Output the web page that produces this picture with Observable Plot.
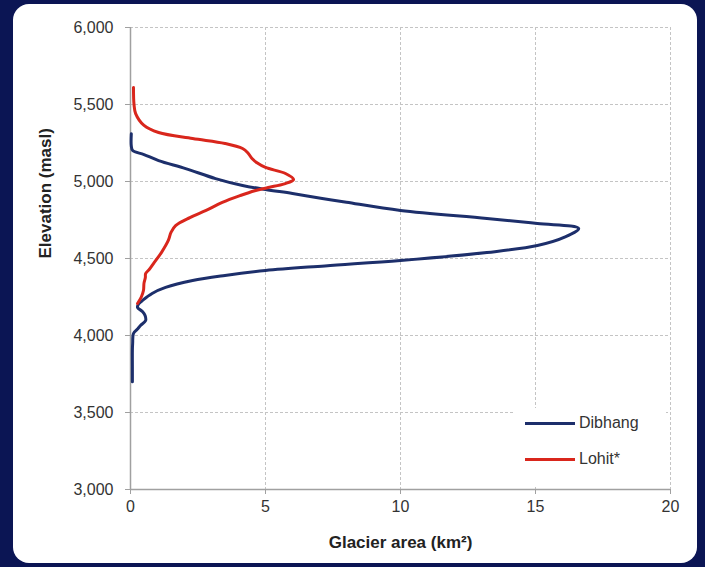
<!DOCTYPE html>
<html>
<head>
<meta charset="utf-8">
<script src="https://cdn.jsdelivr.net/npm/d3@7"></script>
<script src="https://cdn.jsdelivr.net/npm/@observablehq/plot@0.6"></script>
<style>
  html, body { margin: 0; padding: 0; }
  body { width: 705px; height: 567px; background: #0b1554; position: relative; overflow: hidden; font-family: "Liberation Sans", Arial, sans-serif; }
  #panel { position: absolute; left: 13px; top: 4px; width: 684px; height: 559px; background: #fff; border-radius: 16px; }
  #chart { position: absolute; left: 0; top: 0; }
  #legend { position: absolute; left: 514px; top: 408px; width: 152px; height: 78px; background: #fff; }
  .item { position: absolute; left: 11px; height: 20px; display: flex; align-items: center; font-size: 16px; color: #333; }
  .swatch { width: 50px; height: 3px; margin-right: 4px; }
</style>
</head>
<body>
<div id="panel"></div>
<div id="chart"></div>
<div id="legend"></div>
<script>
// Dibhang: elevation (masl) vs glacier area (km²)
const dibhangElev = [3700, 3800, 3900, 3950, 4013, 4040, 4065, 4097, 4130, 4155, 4182, 4205, 4227, 4273, 4312, 4357, 4390, 4422, 4452, 4487, 4539, 4584, 4640, 4695, 4727, 4760, 4812, 4865, 4890, 4922, 4948, 4974, 5019, 5084, 5136, 5175, 5201, 5230, 5310];
const dibhangArea = [0.07, 0.07, 0.07, 0.08, 0.11, 0.25, 0.37, 0.56, 0.54, 0.45, 0.26, 0.3, 0.44, 0.8, 1.3, 2.3, 3.5, 5.0, 7.2, 10.0, 13.2, 15.07, 16.1, 16.6, 15.07, 13.2, 10.0, 8.0, 7.1, 6.0, 5.0, 4.15, 3.15, 2.04, 1.04, 0.5, 0.08, 0.03, 0.03];
// Lohit*
const lohitElev = [4208, 4250, 4292, 4340, 4377, 4402, 4430, 4467, 4540, 4617, 4670, 4714, 4766, 4812, 4864, 4909, 4940, 4961, 4985, 5013, 5052, 5091, 5120, 5149, 5185, 5214, 5247, 5279, 5318, 5364, 5441, 5500, 5610];
const lohitArea = [0.26, 0.4, 0.48, 0.5, 0.55, 0.56, 0.7, 0.85, 1.15, 1.4, 1.5, 1.67, 2.2, 2.8, 3.4, 4.07, 4.6, 5.1, 5.7, 6.04, 5.74, 5.0, 4.7, 4.5, 4.35, 4.15, 3.5, 2.3, 1.04, 0.5, 0.19, 0.13, 0.11];

const seriesNames = ["Dibhang", "Lohit*"];
const seriesColors = ["#1d2f6b", "#d9261c"];
const xTicks = [0, 5, 10, 15, 20];
const yTicks = [3000, 3500, 4000, 4500, 5000, 5500, 6000];
const xTitle = "Glacier area (km²)";
const yTitle = "Elevation (masl)";

const rows = [
  ...dibhangElev.map((e, i) => ({series: seriesNames[0], elev: e, area: dibhangArea[i]})),
  ...lohitElev.map((e, i) => ({series: seriesNames[1], elev: e, area: lohitArea[i]}))
];

const chart = Plot.plot({
  width: 705,
  height: 567,
  marginLeft: 130,
  marginRight: 35,
  marginTop: 27,
  marginBottom: 78,
  style: {background: "transparent", fontFamily: "Liberation Sans, Arial, sans-serif", fontSize: "16px", color: "#333"},
  x: {domain: [0, 20], ticks: xTicks},
  y: {domain: [3000, 6000], ticks: yTicks},
  color: {domain: seriesNames, range: seriesColors},
  marks: [
    Plot.gridX(xTicks, {stroke: "#c4c4c4", strokeOpacity: 1, strokeDasharray: "3,2"}),
    Plot.gridY(yTicks, {stroke: "#c4c4c4", strokeOpacity: 1, strokeDasharray: "3,2"}),
    Plot.ruleX([0], {stroke: "#a0a0a0", strokeWidth: 1.5}),
    Plot.ruleY([3000], {stroke: "#a0a0a0", strokeWidth: 1.5}),
    Plot.axisX(xTicks, {tickSize: 5, stroke: "#a0a0a0", tickPadding: 6, fontSize: 16, fill: "#333", label: null}),
    Plot.axisY(yTicks, {tickSize: 5, stroke: "#a0a0a0", tickPadding: 12, fontSize: 16, fill: "#333", tickFormat: d3.format(","), label: null}),
    Plot.line(rows, {x: "area", y: "elev", z: "series", stroke: "series", strokeWidth: 3, curve: "catmull-rom"}),
    Plot.text([xTitle], {frameAnchor: "bottom", dy: 58, fontWeight: "bold", fontSize: 17, fill: "#222"}),
    Plot.text([yTitle], {frameAnchor: "left", dx: -85, rotate: -90, fontWeight: "bold", fontSize: 17, fill: "#222"})
  ]
});
document.getElementById("chart").appendChild(chart);

const legend = document.getElementById("legend");
seriesNames.forEach((name, i) => {
  const item = document.createElement("div");
  item.className = "item";
  item.style.top = (5 + i * 36) + "px";
  const sw = document.createElement("span");
  sw.className = "swatch";
  sw.style.background = seriesColors[i];
  item.appendChild(sw);
  item.appendChild(document.createTextNode(name));
  legend.appendChild(item);
});
</script>
</body>
</html>
